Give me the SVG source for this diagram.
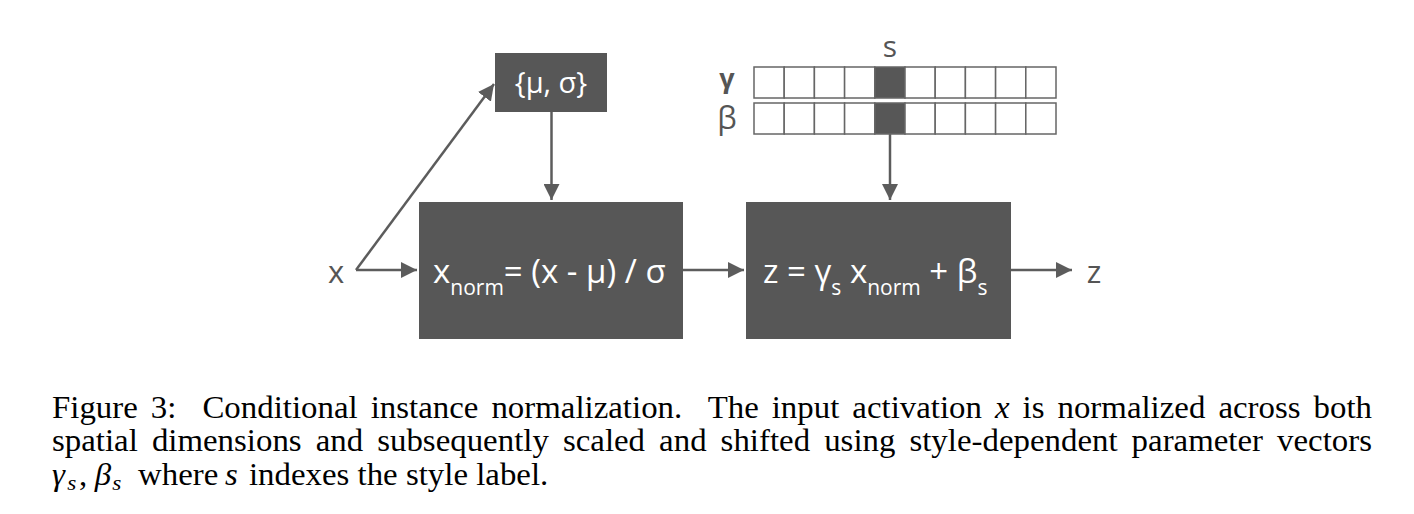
<svg xmlns="http://www.w3.org/2000/svg" width="1414" height="514" viewBox="0 0 1414 514">
<defs>
<style>
.box{fill:#575757;}
.btxt{font-family:"Open Sans","DejaVu Sans",sans-serif;fill:#ffffff;}
.lbl{font-family:"Open Sans","DejaVu Sans",sans-serif;fill:#555555;}
.conn{stroke:#5c5c5c;stroke-width:2.5;fill:none;}
.cell{fill:#ffffff;stroke:#666666;stroke-width:1.5;}
.dcell{fill:#575757;stroke:#666666;stroke-width:1.5;}
.cap{font-family:"Liberation Serif","Times New Roman",serif;font-size:31px;fill:#000000;white-space:pre;}
.it{font-style:italic;}
</style>
<marker id="ah" viewBox="0 0 10 10" refX="10" refY="5" markerWidth="6.4" markerHeight="6.4" markerUnits="strokeWidth" orient="auto">
<path d="M0,0 L10,5 L0,10 z" fill="#5c5c5c"/>
</marker>
</defs>

<g id="connectors">
<path class="conn" d="M356,270 L417,270" marker-end="url(#ah)"/>
<path class="conn" d="M356,270 L494,84" marker-end="url(#ah)"/>
<path class="conn" d="M551.5,112 L551.5,200" marker-end="url(#ah)"/>
<path class="conn" d="M683,270 L744,270" marker-end="url(#ah)"/>
<path class="conn" d="M890,134 L890,200" marker-end="url(#ah)"/>
<path class="conn" d="M1011,270 L1072,270" marker-end="url(#ah)"/>
</g>

<g id="input-x">
<text class="lbl" x="336" y="283" font-size="31" text-anchor="middle">x</text>
</g>

<g id="stats">
<rect class="box" x="495" y="53" width="112" height="59"/>
<text class="btxt" x="551" y="93" font-size="29" text-anchor="middle">{μ, σ}</text>
</g>

<g id="normalize">
<rect class="box" x="419" y="202" width="264" height="137"/>
<text class="btxt" x="433" y="283" font-size="33">x<tspan font-size="21" dy="12">norm</tspan><tspan dy="-12">= (x - μ) / σ</tspan></text>
</g>

<g id="params">
<text class="lbl" x="890" y="57" font-size="30" text-anchor="middle">s</text>
<text class="lbl" x="727" y="88" font-size="27" text-anchor="middle" font-weight="bold" font-family="'DejaVu Sans',sans-serif">γ</text>
<text class="lbl" x="727" y="129" font-size="31" text-anchor="middle">β</text>
<g id="gamma-vector">
<rect class="cell" x="754" y="67" width="30.2" height="31"/>
<rect class="cell" x="784.2" y="67" width="30.2" height="31"/>
<rect class="cell" x="814.4" y="67" width="30.2" height="31"/>
<rect class="cell" x="844.6" y="67" width="30.2" height="31"/>
<rect class="dcell" x="874.8" y="67" width="30.2" height="31"/>
<rect class="cell" x="905" y="67" width="30.2" height="31"/>
<rect class="cell" x="935.2" y="67" width="30.2" height="31"/>
<rect class="cell" x="965.4" y="67" width="30.2" height="31"/>
<rect class="cell" x="995.6" y="67" width="30.2" height="31"/>
<rect class="cell" x="1025.8" y="67" width="30.2" height="31"/>
</g>
<g id="beta-vector">
<rect class="cell" x="754" y="103" width="30.2" height="31"/>
<rect class="cell" x="784.2" y="103" width="30.2" height="31"/>
<rect class="cell" x="814.4" y="103" width="30.2" height="31"/>
<rect class="cell" x="844.6" y="103" width="30.2" height="31"/>
<rect class="dcell" x="874.8" y="103" width="30.2" height="31"/>
<rect class="cell" x="905" y="103" width="30.2" height="31"/>
<rect class="cell" x="935.2" y="103" width="30.2" height="31"/>
<rect class="cell" x="965.4" y="103" width="30.2" height="31"/>
<rect class="cell" x="995.6" y="103" width="30.2" height="31"/>
<rect class="cell" x="1025.8" y="103" width="30.2" height="31"/>
</g>
</g>

<g id="scale-shift">
<rect class="box" x="746" y="202" width="265" height="137"/>
<text class="btxt" x="763" y="283" font-size="33">z = γ<tspan font-size="21" dy="12">s</tspan><tspan dy="-12"> x</tspan><tspan font-size="21" dy="12">norm</tspan><tspan dy="-12"> + β</tspan><tspan font-size="21" dy="12">s</tspan></text>
</g>

<g id="output-z">
<text class="lbl" x="1094" y="283" font-size="31" text-anchor="middle">z</text>
</g>

<g id="caption" transform="matrix(1.06,0,0,1,0,0)">
<text class="cap" x="49.06" y="418" word-spacing="4.5" textLength="1245.3" lengthAdjust="spacing">Figure 3:  Conditional instance normalization.  The input activation <tspan class="it">x</tspan> is normalized across both</text>
<text class="cap" x="49.06" y="451" word-spacing="5.5" textLength="1245.3" lengthAdjust="spacing">spatial dimensions and subsequently scaled and shifted using style-dependent parameter vectors</text>
<text class="cap" y="485"><tspan class="it" x="49.06">γ</tspan><tspan class="it" x="63.5" font-size="22" dy="5">s</tspan><tspan x="74.5" dy="-5">,</tspan><tspan class="it" x="89.5">β</tspan><tspan class="it" x="106" font-size="22" dy="5">s</tspan><tspan x="130.2" dy="-5">where</tspan><tspan class="it" x="212.3">s</tspan><tspan x="234.9">indexes the style label.</tspan></text>
</g>
</svg>
